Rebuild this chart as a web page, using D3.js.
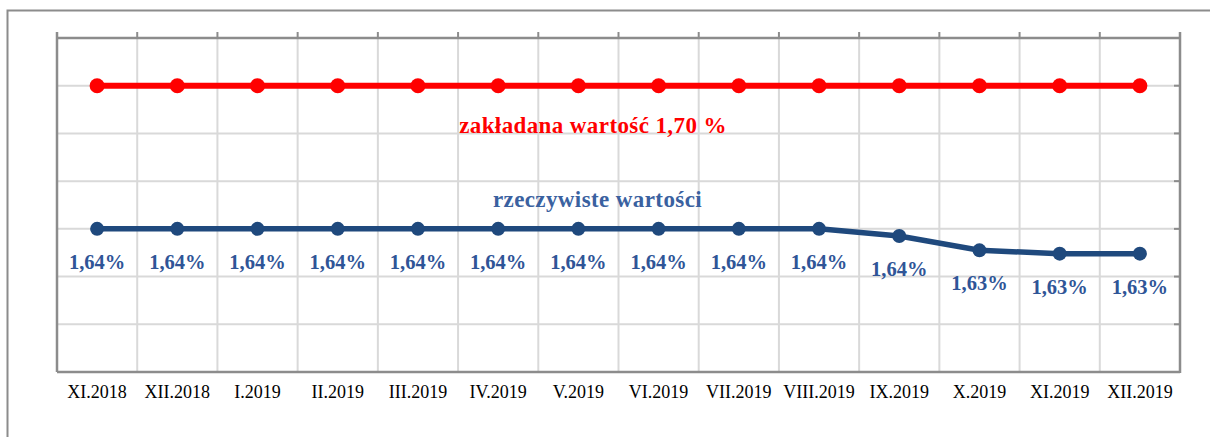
<!DOCTYPE html>
<html>
<head>
<meta charset="utf-8">
<script src="https://cdn.jsdelivr.net/npm/d3@7"></script>
<style>
  html, body { margin: 0; padding: 0; background: #fff; }
  svg { display: block; }
</style>
</head>
<body>
<svg id="chart" width="1210" height="437"></svg>
<script>
const categories = ["XI.2018","XII.2018","I.2019","II.2019","III.2019","IV.2019","V.2019","VI.2019","VII.2019","VIII.2019","IX.2019","X.2019","XI.2019","XII.2019"];
const targetValues = [1.70,1.70,1.70,1.70,1.70,1.70,1.70,1.70,1.70,1.70,1.70,1.70,1.70,1.70];
const actualValues = [1.64,1.64,1.64,1.64,1.64,1.64,1.64,1.64,1.64,1.64,1.637,1.631,1.6296,1.6296];
const actualLabels = ["1,64%","1,64%","1,64%","1,64%","1,64%","1,64%","1,64%","1,64%","1,64%","1,64%","1,64%","1,63%","1,63%","1,63%"];
const yTicks = [1.58,1.60,1.62,1.64,1.66,1.68,1.70,1.72];
const targetNote = "zakładana wartość 1,70 %";
const actualNote = "rzeczywiste wartości";

const svg = d3.select("#chart");
const L = 57, R = 1180, T = 38, B = 372;

const x = d3.scaleBand().domain(categories).range([L, R]);
const y = d3.scaleLinear().domain([1.58, 1.72]).range([B, T]);
const cx = c => x(c) + x.bandwidth() / 2;
const serif = "'Liberation Serif','Times New Roman',serif";

// outer frame
svg.append("path").attr("d", "M7.5,437 V10.5 H1210")
  .attr("fill", "none").attr("stroke", "#8c8c8c").attr("stroke-width", 2);

// grid
const grid = svg.append("g");
grid.selectAll("line.h").data(yTicks).join("line")
  .attr("x1", L).attr("x2", R).attr("y1", d => y(d)).attr("y2", d => y(d))
  .attr("stroke", "#d9d9d9").attr("stroke-width", 2);
grid.selectAll("line.v").data(categories).join("line")
  .attr("x1", d => x(d)).attr("x2", d => x(d)).attr("y1", T).attr("y2", B)
  .attr("stroke", "#d9d9d9").attr("stroke-width", 2);

const axisColor = "#8c8c8c";
// top ticks (upward)
svg.append("g").selectAll("line").data(categories.concat(["__end"])).join("line")
  .attr("x1", d => d === "__end" ? R : x(d)).attr("x2", d => d === "__end" ? R : x(d))
  .attr("y1", T - 6).attr("y2", T)
  .attr("stroke", axisColor).attr("stroke-width", 2);
// right axis ticks (inward)
svg.append("g").selectAll("line").data(yTicks).join("line")
  .attr("x1", R - 6).attr("x2", R).attr("y1", d => y(d)).attr("y2", d => y(d))
  .attr("stroke", axisColor).attr("stroke-width", 2);
// plot frame lines
svg.append("line").attr("x1", L).attr("x2", R).attr("y1", T).attr("y2", T).attr("stroke", axisColor).attr("stroke-width", 2.5);
svg.append("line").attr("x1", L).attr("x2", L).attr("y1", T - 6).attr("y2", B).attr("stroke", axisColor).attr("stroke-width", 2.5);
svg.append("line").attr("x1", R).attr("x2", R).attr("y1", T - 6).attr("y2", B + 1).attr("stroke", axisColor).attr("stroke-width", 2.5);
svg.append("line").attr("x1", L).attr("x2", R).attr("y1", B).attr("y2", B).attr("stroke", axisColor).attr("stroke-width", 2.5);

// bottom category labels
const xAxis = d3.axisBottom(x).tickSize(0).tickPadding(0);
const gx = svg.append("g").attr("transform", `translate(0,${B})`).call(xAxis);
gx.select(".domain").remove();
gx.selectAll("text").attr("dy", null).attr("y", 26)
  .attr("font-family", serif).attr("font-size", 18).attr("fill", "#000");

// target series
const line = d3.line().x((d, i) => cx(categories[i])).y(d => y(d));
svg.append("path").datum(targetValues).attr("d", line)
  .attr("fill", "none").attr("stroke", "#ff0000").attr("stroke-width", 6);
svg.append("g").selectAll("circle").data(targetValues).join("circle")
  .attr("cx", (d, i) => cx(categories[i])).attr("cy", d => y(d)).attr("r", 7.5)
  .attr("fill", "#ff0000");

// actual series
const blue = "#1f497d";
svg.append("path").datum(actualValues).attr("d", line)
  .attr("fill", "none").attr("stroke", blue).attr("stroke-width", 5.5);
svg.append("g").selectAll("circle").data(actualValues).join("circle")
  .attr("cx", (d, i) => cx(categories[i])).attr("cy", d => y(d)).attr("r", 7)
  .attr("fill", blue);
svg.append("g").selectAll("text").data(actualValues).join("text")
  .attr("x", (d, i) => cx(categories[i])).attr("y", d => y(d) + 40)
  .attr("text-anchor", "middle")
  .attr("font-family", serif)
  .attr("font-weight", "bold").attr("font-size", 20.5).attr("fill", "#2f5597")
  .text((d, i) => actualLabels[i]);

// annotations
svg.append("text").attr("x", 593).attr("y", y(1.70) + 47)
  .attr("text-anchor", "middle")
  .attr("font-family", serif).attr("letter-spacing", 0.4)
  .attr("font-weight", "bold").attr("font-size", 23).attr("fill", "#ff0000")
  .text(targetNote);
svg.append("text").attr("x", 597.5).attr("y", y(1.64) - 22)
  .attr("text-anchor", "middle")
  .attr("font-family", serif).attr("letter-spacing", 0.4)
  .attr("font-weight", "bold").attr("font-size", 23).attr("fill", "#3a61a0")
  .text(actualNote);
</script>
</body>
</html>
